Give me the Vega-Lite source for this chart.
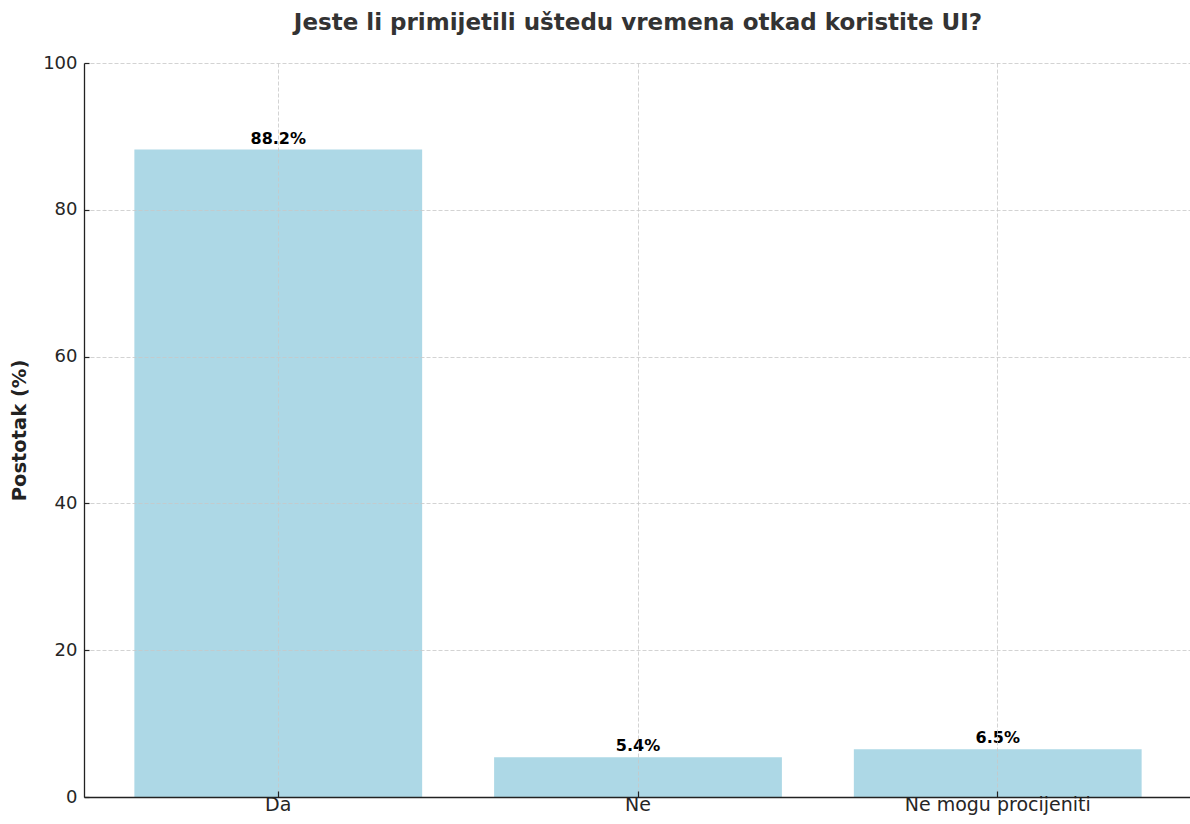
{
  "$schema": "https://vega.github.io/schema/vega-lite/v6.json",
  "autosize": "none",
  "width": 1108,
  "height": 734,
  "padding": {"left": 84, "top": 63, "right": 0, "bottom": 27},
  "background": "white",
  "title": {
    "text": "Jeste li primijetili uštedu vremena otkad koristite UI?",
    "font": "DejaVu Sans",
    "fontSize": 23,
    "fontWeight": "bold",
    "color": "#333333",
    "anchor": "middle",
    "baseline": "alphabetic",
    "offset": 1
  },
  "config": {
    "view": {"stroke": null},
    "font": "DejaVu Sans"
  },
  "data": {
    "values": [
      {"odgovor": "Da", "postotak": 88.2, "oznaka": "88.2%"},
      {"odgovor": "Ne", "postotak": 5.4, "oznaka": "5.4%"},
      {"odgovor": "Ne mogu procijeniti", "postotak": 6.5, "oznaka": "6.5%"}
    ]
  },
  "encoding": {
    "x": {
      "field": "odgovor",
      "type": "nominal",
      "sort": null,
      "scale": {"paddingInner": 0.2, "paddingOuter": 0.14},
      "axis": {
        "title": null,
        "labelAngle": 0,
        "labelLimit": 0,
        "labelFont": "DejaVu Sans",
        "labelFontSize": 19,
        "labelColor": "#262626",
        "labelPadding": 4,
        "domainColor": "#222222",
        "domainWidth": 1.3,
        "tickColor": "#222222",
        "tickSize": -6,
        "tickWidth": 1.2,
        "bandPosition": 0.5,
        "grid": true,
        "gridColor": "#c8c8c8",
        "gridDash": [4, 2],
        "gridWidth": 0.8,
        "zindex": 1
      }
    }
  },
  "layer": [
    {
      "mark": {"type": "bar", "color": "#ADD8E6"},
      "encoding": {
        "y": {
          "field": "postotak",
          "type": "quantitative",
          "scale": {"domain": [0, 100], "nice": false},
          "axis": {
            "title": "Postotak (%)",
            "titleFont": "DejaVu Sans",
            "titleFontSize": 19.5,
            "titleFontWeight": "bold",
            "titleColor": "#222222",
            "titlePadding": 13,
            "values": [0, 20, 40, 60, 80, 100],
            "labelFont": "DejaVu Sans",
            "labelFontSize": 18,
            "labelColor": "#262626",
            "labelPadding": 12,
            "domainColor": "#222222",
            "domainWidth": 1.3,
            "tickColor": "#222222",
            "tickSize": -5,
            "tickWidth": 1.2,
            "grid": true,
            "gridColor": "#c8c8c8",
            "gridDash": [4, 2],
            "gridWidth": 0.8,
            "zindex": 1
          }
        }
      }
    },
    {
      "mark": {
        "type": "text",
        "font": "DejaVu Sans",
        "fontSize": 16,
        "fontWeight": "bold",
        "color": "#000000",
        "baseline": "alphabetic",
        "dy": -6
      },
      "encoding": {
        "y": {"field": "postotak", "type": "quantitative"},
        "text": {"field": "oznaka"}
      }
    }
  ]
}
